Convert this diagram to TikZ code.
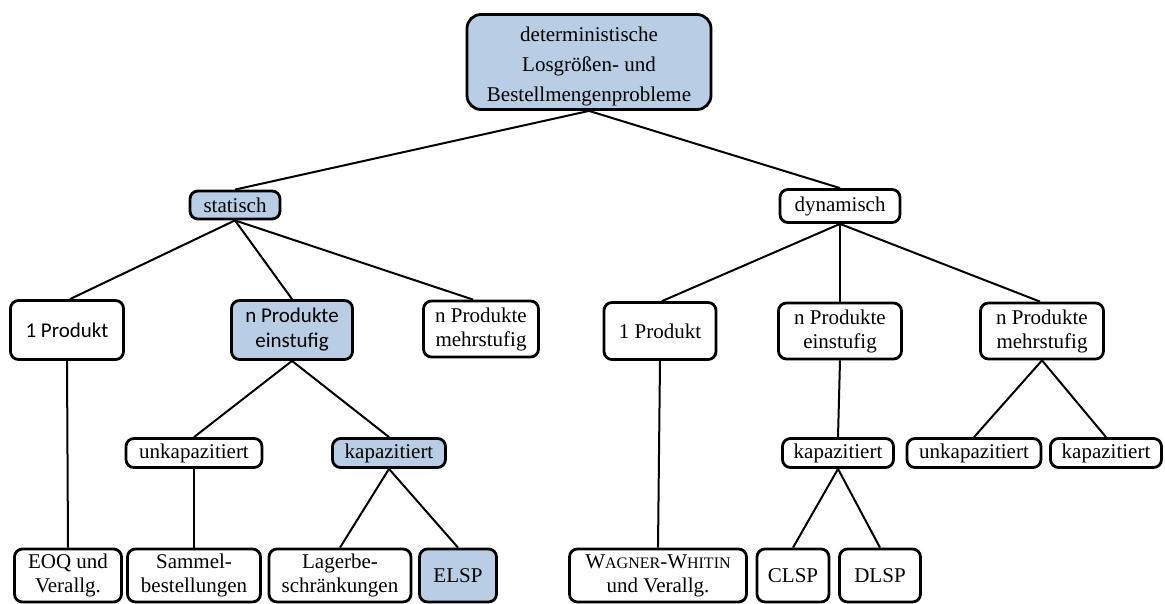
\documentclass[tikz,border=0pt]{standalone}
\usepackage{fontspec}
\setmainfont{Liberation Serif}
\newfontfamily\calib{Carlito}
\definecolor{boxblue}{HTML}{B9CDE5}
\begin{document}
\begin{tikzpicture}[x=1pt,y=-1pt,
  box/.style={draw=black, line width=2.8pt, rounded corners=8pt, inner sep=0pt,
    align=center, font=\fontsize{21}{24}\selectfont, fill=white},
  blue/.style={fill=boxblue},
  conn/.style={line width=2pt}]
\useasboundingbox (0,0) rectangle (1165,604);
% level 0
\node[box, blue, rounded corners=14pt, minimum width=244, minimum height=95,
  font=\fontsize{21}{30}\selectfont] (top) at (589,62)
  {\rule{0pt}{23pt}deterministische\\Losgrößen- und\\Bestellmengenprobleme};
% level 1
\node[box, blue, minimum width=90, minimum height=28] (stat) at (235,205) {statisch};
\node[box, minimum width=120, minimum height=33] (dyn) at (840,206) {dynamisch};
% level 2
\node[box, minimum width=113, minimum height=59, font=\calib\fontsize{21}{25}\selectfont] (p1L) at (67,330) {1 Produkt};
\node[box, blue, minimum width=121, minimum height=59, font=\calib\fontsize{21}{25}\selectfont] (pnL) at (292,330) {n Produkte\\einstufig};
\node[box, minimum width=115, minimum height=56] (pmL) at (481,329) {n Produkte\\mehrstufig};
\node[box, minimum width=112, minimum height=57] (p1R) at (660,331) {1 Produkt};
\node[box, minimum width=123, minimum height=56] (pnR) at (840,331) {n Produkte\\einstufig};
\node[box, minimum width=123, minimum height=56] (pmR) at (1042,331) {n Produkte\\mehrstufig};
% level 3
\node[box, minimum width=136, minimum height=29] (unkL) at (194,453) {unkapazitiert};
\node[box, blue, minimum width=113, minimum height=29] (kapL) at (389,453) {kapazitiert};
\node[box, minimum width=111, minimum height=29] (kapR) at (838,453) {kapazitiert};
\node[box, minimum width=134, minimum height=29] (unkR) at (974,453) {unkapazitiert};
\node[box, minimum width=111, minimum height=29] (kapRR) at (1106,453) {kapazitiert};
% level 4
\node[box, minimum width=107, minimum height=53] (eoq) at (68,575.5) {EOQ und\\Verallg.};
\node[box, minimum width=133, minimum height=53] (sam) at (194,575.5) {Sammel-\\bestellungen};
\node[box, minimum width=142, minimum height=53] (lag) at (340,575.5) {Lagerbe-\\schränkungen};
\node[box, blue, minimum width=77, minimum height=53] (elsp) at (458,575.5) {ELSP};
\node[box, minimum width=177, minimum height=53] (ww) at (658,575.5)
  {W{\fontsize{16}{24}\selectfont AGNER}-W{\fontsize{16}{24}\selectfont HITIN}\\und Verallg.};
\node[box, minimum width=72, minimum height=53] (clsp) at (793,575.5) {CLSP};
\node[box, minimum width=81, minimum height=53] (dlsp) at (880,575.5) {DLSP};
% connectors
\draw[conn] (top.south) -- (stat.north);
\draw[conn] (top.south) -- (dyn.north);
\draw[conn] (stat.south) -- ([xshift=3pt]p1L.north);
\draw[conn] (stat.south) -- (pnL.north);
\draw[conn] (stat.south) -- ([xshift=-8pt]pmL.north);
\draw[conn] (dyn.south) -- ([xshift=2pt]p1R.north);
\draw[conn] (dyn.south) -- (pnR.north);
\draw[conn] (dyn.south) -- ([xshift=-2pt]pmR.north);
\draw[conn] (p1L.south) -- (eoq.north);
\draw[conn] (pnL.south) -- (unkL.north);
\draw[conn] (pnL.south) -- (kapL.north);
\draw[conn] (unkL.south) -- (sam.north);
\draw[conn] (kapL.south) -- (lag.north);
\draw[conn] (kapL.south) -- (elsp.north);
\draw[conn] (p1R.south) -- (ww.north);
\draw[conn] (pnR.south) -- (kapR.north);
\draw[conn] (kapR.south) -- (clsp.north);
\draw[conn] (kapR.south) -- (dlsp.north);
\draw[conn] (pmR.south) -- (unkR.north);
\draw[conn] (pmR.south) -- (kapRR.north);
\end{tikzpicture}
\end{document}
